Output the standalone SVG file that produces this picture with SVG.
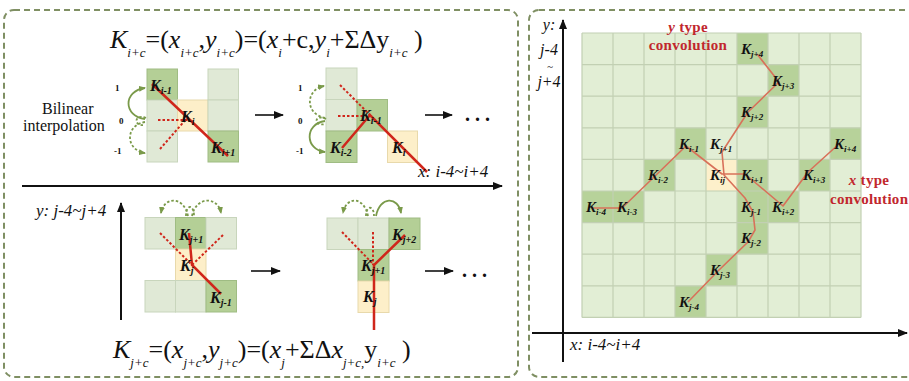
<svg xmlns="http://www.w3.org/2000/svg" width="909" height="381" viewBox="0 0 909 381">
<defs>
<style>
text{font-family:"Liberation Serif","Times New Roman",serif;fill:#111}
.panel{fill:#fff;stroke:#7f8f63;stroke-width:2;stroke-dasharray:6 4}
.lt{fill:#e0e9d6;stroke:#c8d5bc;stroke-width:1}
.dk{fill:#b4cf96;stroke:#9fbc83;stroke-width:1}
.yl{fill:#fdefc9;stroke:#e8d9ab;stroke-width:1}
.glt{fill:#e2eed5}
.gdk{fill:#b7d29a}
.gyl{fill:#fdf0cb}
.gline{stroke:#c2d0b3;stroke-width:1.2;fill:none}
.red{stroke:#d0261b;stroke-width:2.5;fill:none}
.redd{stroke:#d0261b;stroke-width:2;fill:none;stroke-dasharray:2.5 2}
.gred{stroke:#d8715a;stroke-width:1.6;fill:none;stroke-linejoin:round}
.garc{stroke:#7a9a4a;stroke-width:1.8;fill:none}
.garcd{stroke:#7a9a4a;stroke-width:1.8;fill:none;stroke-dasharray:2.5 2}
.axis{stroke:#111;stroke-width:2;fill:none}
.k{font-weight:bold;font-style:italic;font-size:16px}
.ks{font-size:10px}
.gk{font-weight:bold;font-style:italic;font-size:15px}
.gks{font-size:9px}
.num{font-weight:bold;font-size:9px}
.f{font-size:26px}
.fs{font-size:13px;font-style:italic}
.it{font-style:italic}
.lab{font-size:17px;font-style:italic}
.ylab{font-size:16px;font-style:italic}
.conv{font-weight:bold;font-size:15px;fill:#c1272d;letter-spacing:0.3px}
.dots{font-size:20px;font-weight:bold;letter-spacing:5px}
.bi{font-size:16px}
</style>
<marker id="ah" markerWidth="10" markerHeight="8" refX="9" refY="4" orient="auto" markerUnits="userSpaceOnUse">
<path d="M0,0 L10,4 L0,8 Z" fill="#111"/>
</marker>
<marker id="ga" markerWidth="7" markerHeight="6" refX="6" refY="3" orient="auto" markerUnits="userSpaceOnUse">
<path d="M0,0 L7,3 L0,6 Z" fill="#7a9a4a"/>
</marker>
</defs>

<!-- panels -->
<rect class="panel" x="4" y="10" width="514" height="367" rx="10"/>
<rect class="panel" x="529" y="10" width="390" height="367" rx="10"/>

<!-- LEFT PANEL -->
<text class="f" x="110" y="48"><tspan class="it">K</tspan><tspan class="fs" dy="9">i+c</tspan><tspan dy="-9">=(</tspan><tspan class="it">x</tspan><tspan class="fs" dy="9">i+c</tspan><tspan dy="-9">,</tspan><tspan class="it">y</tspan><tspan class="fs" dy="9">i+c</tspan><tspan dy="-9">)=(</tspan><tspan class="it">x</tspan><tspan class="fs" dy="9">i</tspan><tspan dy="-9">+c,</tspan><tspan class="it">y</tspan><tspan class="fs" dy="9">i</tspan><tspan dy="-9">+ΣΔy</tspan><tspan class="fs" dy="9">i+c</tspan><tspan dy="-9"> )</tspan></text>

<text class="bi" x="42" y="114">Bilinear</text>
<text class="bi" x="23" y="131">interpolation</text>

<!-- top diagram 1 -->
<g id="top-diagram-1">
<rect class="dk" x="147" y="69" width="30.5" height="31"/>
<rect class="lt" x="147" y="100" width="30.5" height="31"/>
<rect class="lt" x="147" y="131" width="30.5" height="31"/>
<rect class="yl" x="177.5" y="100" width="30.5" height="31"/>
<rect class="lt" x="208" y="69" width="30.5" height="31"/>
<rect class="lt" x="208" y="100" width="30.5" height="31"/>
<rect class="dk" x="208" y="131" width="30.5" height="31"/>
<text class="num" x="115" y="91">1</text>
<text class="num" x="119" y="124">0</text>
<text class="num" x="114" y="154">-1</text>
<path class="garc" d="M145,119 C123,116 123,91 145,88" marker-end="url(#ga)"/>
<path class="garcd" d="M145,122 C125,125 125,150 145,153" marker-end="url(#ga)"/>
<path class="garcd" d="M146,118 C134,113 133,127 145,125"/>
<path class="redd" d="M158,120 L190,120"/>
<path class="redd" d="M160,149 L188,117"/>
<path class="red" d="M152,84 L228,156"/>
<text class="k" x="150" y="91">K<tspan class="ks" dy="3">i-1</tspan></text>
<text class="k" x="181" y="122">K<tspan class="ks" dy="3">i</tspan></text>
<text class="k" x="211" y="153">K<tspan class="ks" dy="3">i+1</tspan></text>
</g>

<!-- top diagram 2 -->
<g id="top-diagram-2">
<rect class="lt" x="326" y="68" width="31" height="31.5"/>
<rect class="lt" x="326" y="99.5" width="31" height="31.5"/>
<rect class="dk" x="326" y="131" width="31" height="31.5"/>
<rect class="dk" x="357" y="99.5" width="30.5" height="31.5"/>
<rect class="yl" x="387.5" y="131" width="30" height="31.5"/>
<text class="num" x="298" y="91">1</text>
<text class="num" x="298" y="124">0</text>
<text class="num" x="296" y="154">-1</text>
<path class="garcd" d="M325,118 C305,114 305,90 324,86" marker-end="url(#ga)"/>
<path class="garc" d="M325,121 C304,124 305,150 325,152" marker-end="url(#ga)"/>
<path class="garcd" d="M326,119 C314,113 313,127 325,124"/>
<path class="redd" d="M340,85 L370,115"/>
<path class="redd" d="M338,116 L363,116"/>
<path class="red" d="M342,148 L370,115 L427,172"/>
<text class="k" x="330" y="153">K<tspan class="ks" dy="3">i-2</tspan></text>
<text class="k" x="360" y="121">K<tspan class="ks" dy="3">i-1</tspan></text>
<text class="k" x="392" y="153">K<tspan class="ks" dy="3">i</tspan></text>
</g>

<g id="connectors">
<path class="axis" d="M22,186 L502,186" marker-end="url(#ah)"/>
<path class="axis" d="M121,320 L121,203" marker-end="url(#ah)"/>
<path class="axis" style="stroke-width:1.6" d="M255,115 L283,115" marker-end="url(#ah)"/>
<path class="axis" style="stroke-width:1.6" d="M425,115 L452,115" marker-end="url(#ah)"/>
<path class="axis" style="stroke-width:1.6" d="M251,271 L280,271" marker-end="url(#ah)"/>
<path class="axis" style="stroke-width:1.6" d="M425,271 L453,271" marker-end="url(#ah)"/>
<path class="axis" d="M563,362 L563,20" marker-end="url(#ah)"/>
<path class="axis" d="M532,333 L907,333" marker-end="url(#ah)"/>
</g>

<text class="dots" x="465" y="121">...</text>
<text class="dots" x="462" y="277">...</text>

<text class="lab" x="418" y="177">x: i-4~i+4</text>
<text class="lab" x="36" y="216">y: j-4~j+4</text>

<!-- bottom diagram 1 -->
<g id="bottom-diagram-1">
<rect class="lt" x="145" y="217.5" width="30.5" height="31.5"/>
<rect class="dk" x="175.5" y="217.5" width="30.5" height="31.5"/>
<rect class="lt" x="206" y="217.5" width="30.5" height="31.5"/>
<rect class="yl" x="175.5" y="249" width="30.5" height="31.5"/>
<rect class="lt" x="145" y="280.5" width="30.5" height="31.5"/>
<rect class="lt" x="175.5" y="280.5" width="30.5" height="31.5"/>
<rect class="dk" x="206" y="280.5" width="30.5" height="31.5"/>
<path class="garcd" d="M188,216 C184,196 164,196 161,213" marker-end="url(#ga)"/>
<path class="garcd" d="M192,216 C196,196 218,196 221,213" marker-end="url(#ga)"/>
<path class="garcd" d="M186,216 C186,204 194,204 194,216"/>
<path class="redd" d="M160,233 L192,265"/>
<path class="redd" d="M223,235 L192,265"/>
<path class="red" d="M189,233 L192,265 L221,294"/>
<text class="k" x="179" y="240">K<tspan class="ks" dy="3">j+1</tspan></text>
<text class="k" x="180" y="271">K<tspan class="ks" dy="3">j</tspan></text>
<text class="k" x="210" y="303">K<tspan class="ks" dy="3">j-1</tspan></text>
</g>

<!-- bottom diagram 2 -->
<g id="bottom-diagram-2">
<rect class="lt" x="327" y="218" width="31" height="31.5"/>
<rect class="lt" x="358" y="218" width="31" height="31.5"/>
<rect class="dk" x="389" y="218" width="31" height="31.5"/>
<rect class="dk" x="358" y="249.5" width="31" height="31.5"/>
<rect class="yl" x="358" y="281" width="31" height="31.5"/>
<path class="garcd" d="M368,216 C364,196 346,196 343,213" marker-end="url(#ga)"/>
<path class="garc" d="M376,216 C380,196 398,196 401,213" marker-end="url(#ga)"/>
<path class="garcd" d="M366,216 C366,205 374,205 374,216"/>
<path class="redd" d="M342,232 L374,265"/>
<path class="redd" d="M373,232 L373,265"/>
<path class="red" d="M374,330 L374,265 L405,235"/>
<text class="k" x="392" y="240">K<tspan class="ks" dy="3">j+2</tspan></text>
<text class="k" x="361" y="271">K<tspan class="ks" dy="3">j+1</tspan></text>
<text class="k" x="363" y="302">K<tspan class="ks" dy="3">j</tspan></text>
</g>

<text class="f" x="113" y="358"><tspan class="it">K</tspan><tspan class="fs" dy="9">j+c</tspan><tspan dy="-9">=(</tspan><tspan class="it">x</tspan><tspan class="fs" dy="9">j+c</tspan><tspan dy="-9">,</tspan><tspan class="it">y</tspan><tspan class="fs" dy="9">j+c</tspan><tspan dy="-9">)=(</tspan><tspan class="it">x</tspan><tspan class="fs" dy="9">j</tspan><tspan dy="-9">+ΣΔ</tspan><tspan class="it">x</tspan><tspan class="fs" dy="9">j+c,</tspan><tspan dy="-9">y</tspan><tspan class="fs" dy="9">i+c</tspan><tspan dy="-9"> )</tspan></text>

<!-- RIGHT PANEL GRID -->
<g id="grid">
<rect class="glt" x="582" y="33" width="279" height="284.4"/>
<rect class="gdk" x="737" y="33" width="31" height="31.6"/>
<rect class="gdk" x="768" y="64.6" width="31" height="31.6"/>
<rect class="gdk" x="737" y="96.2" width="31" height="31.6"/>
<rect class="gdk" x="675" y="127.8" width="31" height="31.6"/>
<rect class="gdk" x="830" y="127.8" width="31" height="31.6"/>
<rect class="gdk" x="644" y="159.4" width="31" height="31.6"/>
<rect class="gyl" x="706" y="159.4" width="31" height="31.6"/>
<rect class="gdk" x="737" y="159.4" width="31" height="31.6"/>
<rect class="gdk" x="799" y="159.4" width="31" height="31.6"/>
<rect class="gdk" x="582" y="191" width="31" height="31.6"/>
<rect class="gdk" x="613" y="191" width="31" height="31.6"/>
<rect class="gdk" x="737" y="191" width="31" height="31.6"/>
<rect class="gdk" x="768" y="191" width="31" height="31.6"/>
<rect class="gdk" x="737" y="222.6" width="31" height="31.6"/>
<rect class="gdk" x="706" y="254.2" width="31" height="31.6"/>
<rect class="gdk" x="675" y="285.8" width="31" height="31.6"/>
<path class="gline" d="M582,33 V317.4 M613,33 V317.4 M644,33 V317.4 M675,33 V317.4 M706,33 V317.4 M737,33 V317.4 M768,33 V317.4 M799,33 V317.4 M830,33 V317.4 M861,33 V317.4 M582,33 H861 M582,64.6 H861 M582,96.2 H861 M582,127.8 H861 M582,159.4 H861 M582,191 H861 M582,222.6 H861 M582,254.2 H861 M582,285.8 H861 M582,317.4 H861"/>
</g>

<g id="grid-paths">
<path class="gred" d="M688,302 L718,271 L748,242 L755,230 L753,212 L745,198 L724,175 L722,152 L748,112 L779,82 L757,54"/>
<path class="gred" d="M592,208 L622,208 L653,178 L686,146 L722,174 L745,174 L783,206 L808,172 L840,143"/>
</g>

<g id="grid-labels">
<text class="gk" x="741" y="54">K<tspan class="gks" dy="3">j+4</tspan></text>
<text class="gk" x="772" y="86">K<tspan class="gks" dy="3">j+3</tspan></text>
<text class="gk" x="741" y="117">K<tspan class="gks" dy="3">j+2</tspan></text>
<text class="gk" x="679" y="149">K<tspan class="gks" dy="3">i-1</tspan></text>
<text class="gk" x="710" y="149">K<tspan class="gks" dy="3">j+1</tspan></text>
<text class="gk" x="834" y="149">K<tspan class="gks" dy="3">i+4</tspan></text>
<text class="gk" x="648" y="180">K<tspan class="gks" dy="3">i-2</tspan></text>
<text class="gk" x="710" y="180">K<tspan class="gks" dy="3">ij</tspan></text>
<text class="gk" x="741" y="180">K<tspan class="gks" dy="3">i+1</tspan></text>
<text class="gk" x="803" y="180">K<tspan class="gks" dy="3">i+3</tspan></text>
<text class="gk" x="586" y="212">K<tspan class="gks" dy="3">i-4</tspan></text>
<text class="gk" x="617" y="212">K<tspan class="gks" dy="3">i-3</tspan></text>
<text class="gk" x="741" y="212">K<tspan class="gks" dy="3">j-1</tspan></text>
<text class="gk" x="772" y="212">K<tspan class="gks" dy="3">i+2</tspan></text>
<text class="gk" x="741" y="243">K<tspan class="gks" dy="3">j-2</tspan></text>
<text class="gk" x="710" y="275">K<tspan class="gks" dy="3">j-3</tspan></text>
<text class="gk" x="679" y="307">K<tspan class="gks" dy="3">j-4</tspan></text>
</g>

<text class="conv" x="688" y="32" text-anchor="middle"><tspan class="it">y</tspan> type</text>
<text class="conv" x="688" y="50" text-anchor="middle">convolution</text>
<text class="conv" x="869" y="185" text-anchor="middle"><tspan class="it">x</tspan> type</text>
<text class="conv" x="830" y="204">convolution</text>

<text class="ylab" x="549" y="30" text-anchor="middle">y:</text>
<text class="ylab" x="549" y="55" text-anchor="middle">j-4</text>
<text class="ylab" x="550" y="69.5" text-anchor="middle" style="font-size:11px">~</text>
<text class="ylab" x="549" y="87" text-anchor="middle">j+4</text>
<text class="lab" x="570" y="350">x: i-4~i+4</text>
</svg>
